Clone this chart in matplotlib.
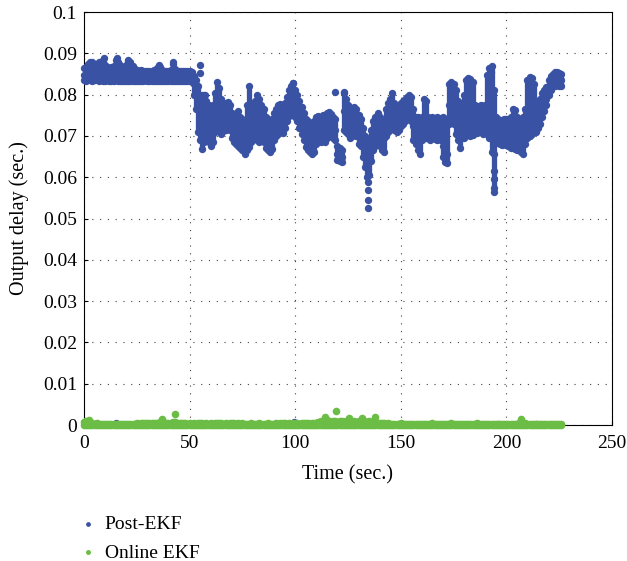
import numpy as np
import matplotlib
matplotlib.use('Agg')
from matplotlib import pyplot as plt

plt.rcParams['font.family'] = ['Liberation Serif', 'DejaVu Serif']

post_hi = [
    0.0865, 0.0868, 0.0875, 0.0880, 0.0878, 0.0875, 0.0870, 0.0878, 0.0872, 0.0885,
    0.0872, 0.0868, 0.0865, 0.0868, 0.0870, 0.0885, 0.0878, 0.0872, 0.0868, 0.0865,
    0.0872, 0.0882, 0.0878, 0.0870, 0.0862, 0.0860, 0.0858, 0.0860, 0.0858, 0.0856,
    0.0858, 0.0857, 0.0858, 0.0860, 0.0862, 0.0868, 0.0866, 0.0860, 0.0858, 0.0857,
    0.0858, 0.0860, 0.0875, 0.0862, 0.0858, 0.0857, 0.0858, 0.0856, 0.0858, 0.0857,
    0.0858, 0.0855, 0.0845, 0.0835, 0.0820, 0.0800, 0.0800, 0.0798, 0.0785, 0.0775,
    0.0765, 0.0775, 0.0805, 0.0830, 0.0815, 0.0790, 0.0775, 0.0780, 0.0782, 0.0775,
    0.0755, 0.0745, 0.0735, 0.0760, 0.0745, 0.0740, 0.0735, 0.0775, 0.0820, 0.0765,
    0.0775, 0.0785, 0.0800, 0.0790, 0.0775, 0.0765, 0.0745, 0.0740, 0.0730, 0.0740,
    0.0755, 0.0765, 0.0775, 0.0778, 0.0770, 0.0780, 0.0795, 0.0810, 0.0820, 0.0828,
    0.0810, 0.0800, 0.0785, 0.0770, 0.0755, 0.0740, 0.0735, 0.0732, 0.0730, 0.0735,
    0.0745, 0.0748, 0.0740, 0.0750, 0.0745, 0.0755, 0.0758, 0.0752, 0.0745, 0.0740,
    0.0675, 0.0670, 0.0665, 0.0805, 0.0790, 0.0775, 0.0760, 0.0765, 0.0770, 0.0765,
    0.0750, 0.0740, 0.0720, 0.0700, 0.0685, 0.0690, 0.0715, 0.0735, 0.0745, 0.0755,
    0.0745, 0.0735, 0.0730, 0.0765, 0.0780, 0.0790, 0.0804, 0.0780, 0.0768, 0.0775,
    0.0780, 0.0785, 0.0790, 0.0795, 0.0800, 0.0795, 0.0765, 0.0745, 0.0745, 0.0742,
    0.0745, 0.0790, 0.0785, 0.0745, 0.0743, 0.0745, 0.0742, 0.0745, 0.0743, 0.0742,
    0.0745, 0.0742, 0.0740, 0.0825, 0.0830, 0.0825, 0.0810, 0.0785, 0.0770, 0.0775,
    0.0800, 0.0835, 0.0840, 0.0838, 0.0830, 0.0775, 0.0768, 0.0772, 0.0775, 0.0765,
    0.0775, 0.0848, 0.0865, 0.0870, 0.0810, 0.0745, 0.0740, 0.0735, 0.0738, 0.0740,
    0.0742, 0.0740, 0.0745, 0.0765, 0.0762, 0.0745, 0.0742, 0.0740, 0.0745, 0.0765,
    0.0835, 0.0843, 0.0840, 0.0825, 0.0775, 0.0785, 0.0790, 0.0805, 0.0810, 0.0818,
    0.0835, 0.0845, 0.0850, 0.0855, 0.0855, 0.0852, 0.0850,
]
post_mid = [
    0.0848, 0.0850, 0.0852, 0.0855, 0.0852, 0.0850, 0.0848, 0.0850, 0.0852, 0.0850,
    0.0850, 0.0848, 0.0846, 0.0848, 0.0850, 0.0852, 0.0855, 0.0850, 0.0848, 0.0846,
    0.0848, 0.0850, 0.0848, 0.0845, 0.0845, 0.0844, 0.0845, 0.0843, 0.0845, 0.0844,
    0.0845, 0.0844, 0.0845, 0.0846, 0.0845, 0.0847, 0.0846, 0.0845, 0.0844, 0.0845,
    0.0845, 0.0846, 0.0848, 0.0845, 0.0844, 0.0845, 0.0844, 0.0845, 0.0844, 0.0845,
    0.0845, 0.0842, 0.0825, 0.0800, 0.0765, 0.0740, 0.0745, 0.0735, 0.0730, 0.0725,
    0.0720, 0.0730, 0.0755, 0.0780, 0.0765, 0.0745, 0.0735, 0.0740, 0.0745, 0.0740,
    0.0715, 0.0710, 0.0705, 0.0715, 0.0705, 0.0700, 0.0695, 0.0705, 0.0710, 0.0715,
    0.0735, 0.0740, 0.0745, 0.0745, 0.0735, 0.0720, 0.0705, 0.0700, 0.0695, 0.0705,
    0.0725, 0.0730, 0.0735, 0.0740, 0.0738, 0.0750, 0.0765, 0.0775, 0.0780, 0.0795,
    0.0775, 0.0760, 0.0745, 0.0735, 0.0720, 0.0705, 0.0700, 0.0695, 0.0690, 0.0695,
    0.0710, 0.0715, 0.0708, 0.0720, 0.0712, 0.0725, 0.0730, 0.0725, 0.0720, 0.0715,
    0.0655, 0.0650, 0.0648, 0.0760, 0.0745, 0.0735, 0.0730, 0.0735, 0.0740, 0.0735,
    0.0715, 0.0705, 0.0685, 0.0660, 0.0635, 0.0640, 0.0670, 0.0700, 0.0710, 0.0720,
    0.0715, 0.0700, 0.0695, 0.0735, 0.0745, 0.0755, 0.0765, 0.0745, 0.0740, 0.0745,
    0.0750, 0.0755, 0.0760, 0.0765, 0.0770, 0.0765, 0.0725, 0.0710, 0.0705, 0.0700,
    0.0715, 0.0735, 0.0730, 0.0720, 0.0720, 0.0722, 0.0720, 0.0718, 0.0720, 0.0720,
    0.0675, 0.0665, 0.0655, 0.0775, 0.0785, 0.0775, 0.0755, 0.0740, 0.0720, 0.0735,
    0.0745, 0.0765, 0.0755, 0.0750, 0.0745, 0.0745, 0.0740, 0.0742, 0.0745, 0.0738,
    0.0745, 0.0745, 0.0735, 0.0705, 0.0655, 0.0715, 0.0712, 0.0708, 0.0710, 0.0712,
    0.0712, 0.0710, 0.0708, 0.0720, 0.0715, 0.0710, 0.0705, 0.0700, 0.0710, 0.0720,
    0.0745, 0.0755, 0.0765, 0.0775, 0.0740, 0.0755, 0.0765, 0.0775, 0.0780, 0.0790,
    0.0820, 0.0830, 0.0835, 0.0840, 0.0842, 0.0838, 0.0835,
]
post_lo = [
    0.0835, 0.0832, 0.0838, 0.0835, 0.0832, 0.0835, 0.0838, 0.0833, 0.0835, 0.0832,
    0.0833, 0.0835, 0.0832, 0.0834, 0.0832, 0.0835, 0.0833, 0.0832, 0.0834, 0.0832,
    0.0832, 0.0834, 0.0833, 0.0832, 0.0834, 0.0833, 0.0832, 0.0834, 0.0833, 0.0835,
    0.0833, 0.0832, 0.0834, 0.0833, 0.0832, 0.0834, 0.0833, 0.0832, 0.0834, 0.0833,
    0.0833, 0.0834, 0.0832, 0.0833, 0.0834, 0.0833, 0.0832, 0.0834, 0.0833, 0.0834,
    0.0832, 0.0830, 0.0800, 0.0765, 0.0710, 0.0690, 0.0668, 0.0685, 0.0700, 0.0685,
    0.0675, 0.0685, 0.0710, 0.0740, 0.0720, 0.0705, 0.0712, 0.0715, 0.0720, 0.0715,
    0.0695, 0.0685, 0.0680, 0.0675, 0.0670, 0.0665, 0.0655, 0.0665, 0.0672, 0.0685,
    0.0700, 0.0695, 0.0690, 0.0685, 0.0690, 0.0685, 0.0670, 0.0665, 0.0660, 0.0668,
    0.0690, 0.0700, 0.0705, 0.0710, 0.0708, 0.0720, 0.0735, 0.0748, 0.0755, 0.0765,
    0.0745, 0.0735, 0.0720, 0.0705, 0.0690, 0.0672, 0.0665, 0.0660, 0.0655, 0.0660,
    0.0680, 0.0690, 0.0685, 0.0690, 0.0685, 0.0695, 0.0705, 0.0700, 0.0695, 0.0690,
    0.0642, 0.0640, 0.0638, 0.0715, 0.0710, 0.0705, 0.0695, 0.0700, 0.0705, 0.0700,
    0.0680, 0.0675, 0.0650, 0.0625, 0.0600, 0.0605, 0.0640, 0.0665, 0.0675, 0.0680,
    0.0675, 0.0665, 0.0660, 0.0700, 0.0710, 0.0720, 0.0730, 0.0715, 0.0710, 0.0715,
    0.0725, 0.0730, 0.0735, 0.0740, 0.0745, 0.0735, 0.0690, 0.0680, 0.0665, 0.0655,
    0.0690, 0.0695, 0.0695, 0.0695, 0.0690, 0.0695, 0.0692, 0.0690, 0.0692, 0.0690,
    0.0648, 0.0638, 0.0635, 0.0730, 0.0735, 0.0730, 0.0705, 0.0690, 0.0670, 0.0695,
    0.0695, 0.0710, 0.0705, 0.0700, 0.0702, 0.0710, 0.0708, 0.0710, 0.0712, 0.0705,
    0.0710, 0.0705, 0.0695, 0.0660, 0.0575, 0.0685, 0.0682, 0.0680, 0.0678, 0.0680,
    0.0678, 0.0675, 0.0670, 0.0672, 0.0668, 0.0665, 0.0668, 0.0660, 0.0655, 0.0680,
    0.0695, 0.0700, 0.0705, 0.0712, 0.0710, 0.0720, 0.0730, 0.0745, 0.0760, 0.0775,
    0.0800, 0.0810, 0.0820, 0.0822, 0.0825, 0.0822, 0.0820,
]
# isolated Post-EKF points
post_out_t = [9.5, 15.6, 21.0, 35.5, 42.0, 55.0, 55.0, 57.5, 99.0, 119.0, 123.0,
              134.5, 134.5, 134.5, 134.5, 192.5, 194.0, 194.0, 194.0,
              15.0, 99.5, 196.0, 205.0, 214.0]
post_out_y = [0.0889, 0.0889, 0.0884, 0.0872, 0.0879, 0.0872, 0.0852, 0.0799, 0.0828, 0.0806, 0.0806,
              0.0588, 0.0569, 0.0545, 0.0525, 0.0855, 0.0615, 0.0595, 0.0565,
              0.0004, 0.0007, 0.0003, 0.0003, 0.0003]

# Online EKF output delay per second (t = 0..226)
online = [
    0.0008, 0.0009, 0.0007, 0.0005, 0.0004, 0.0003, 0.0004, 0.0003, 0.0002, 0.0003,
    0.0002, 0.0003, 0.0002, 0.0003, 0.0002, 0.0002, 0.0003, 0.0002, 0.0003, 0.0002,
    0.0003, 0.0002, 0.0003, 0.0002, 0.0003, 0.0004, 0.0003, 0.0005, 0.0004, 0.0005,
    0.0004, 0.0006, 0.0005, 0.0004, 0.0006, 0.0005, 0.0008, 0.0010, 0.0006, 0.0005,
    0.0006, 0.0005, 0.0007, 0.0008, 0.0006, 0.0005, 0.0004, 0.0005, 0.0004, 0.0003,
    0.0004, 0.0003, 0.0004, 0.0003, 0.0004, 0.0005, 0.0004, 0.0003, 0.0004, 0.0003,
    0.0004, 0.0003, 0.0005, 0.0004, 0.0005, 0.0004, 0.0003, 0.0004, 0.0003, 0.0004,
    0.0005, 0.0004, 0.0003, 0.0004, 0.0003, 0.0004, 0.0003, 0.0002, 0.0003, 0.0004,
    0.0003, 0.0002, 0.0003, 0.0004, 0.0003, 0.0002, 0.0003, 0.0004, 0.0003, 0.0002,
    0.0003, 0.0004, 0.0003, 0.0004, 0.0005, 0.0004, 0.0003, 0.0004, 0.0003, 0.0004,
    0.0003, 0.0004, 0.0003, 0.0005, 0.0004, 0.0005, 0.0004, 0.0003, 0.0004, 0.0006,
    0.0005, 0.0007, 0.0009, 0.0010, 0.0008, 0.0012, 0.0009, 0.0008, 0.0010, 0.0009,
    0.0008, 0.0009, 0.0010, 0.0008, 0.0009, 0.0011, 0.0008, 0.0007, 0.0009, 0.0008,
    0.0010, 0.0009, 0.0011, 0.0008, 0.0007, 0.0009, 0.0008, 0.0007, 0.0006, 0.0005,
    0.0006, 0.0005, 0.0004, 0.0003, 0.0004, 0.0003, 0.0002, 0.0003, 0.0002, 0.0003,
    0.0004, 0.0003, 0.0002, 0.0003, 0.0002, 0.0003, 0.0002, 0.0002, 0.0003, 0.0002,
    0.0003, 0.0002, 0.0003, 0.0002, 0.0003, 0.0004, 0.0003, 0.0002, 0.0003, 0.0002,
    0.0002, 0.0003, 0.0002, 0.0003, 0.0004, 0.0003, 0.0002, 0.0003, 0.0002, 0.0003,
    0.0002, 0.0003, 0.0002, 0.0003, 0.0002, 0.0003, 0.0004, 0.0003, 0.0002, 0.0003,
    0.0002, 0.0003, 0.0002, 0.0003, 0.0002, 0.0003, 0.0002, 0.0003, 0.0002, 0.0003,
    0.0002, 0.0003, 0.0002, 0.0003, 0.0002, 0.0003, 0.0004, 0.0006, 0.0005, 0.0004,
    0.0003, 0.0002, 0.0003, 0.0002, 0.0003, 0.0002, 0.0003, 0.0002, 0.0003, 0.0002,
    0.0003, 0.0002, 0.0003, 0.0002, 0.0003, 0.0002, 0.0002,
]
online_out_t = [2.4, 37.0, 43.0, 114.0, 119.5, 125.5, 131.6, 138.0, 207.0]
online_out_y = [0.0012, 0.0015, 0.0027, 0.0020, 0.0034, 0.0017, 0.0017, 0.0019, 0.0015]

blue = '#3A52A3'
green = '#6CBD45'

t = np.arange(len(post_hi))
post_t = np.concatenate([t, t, t, post_out_t])
post_y = np.concatenate([post_hi, post_mid, post_lo, post_out_y])
t2 = np.arange(len(online))
online_t = np.concatenate([t2, t2, online_out_t])
online_y = np.concatenate([online, np.zeros(len(online)), online_out_y])

fig = plt.figure(figsize=(6.27, 5.61), dpi=100)
ax = fig.add_axes([0.134, 0.2424, 0.842, 0.7362])

# dense body of each band, then the individual samples on top
ax.vlines(t, post_lo, post_hi, color=blue, linewidth=3.8, capstyle='round', zorder=3)
ax.scatter(post_t, post_y, s=28, color=blue, linewidths=0, label='Post-EKF', clip_on=False, zorder=3)
ax.vlines(t2, 0, online, color=green, linewidth=4.2, capstyle='round', zorder=4, clip_on=False)
ax.scatter(online_t, online_y, s=30, color=green, linewidths=0, label='Online EKF', clip_on=False, zorder=4)

ax.set_xlim(0, 250)
ax.set_ylim(0, 0.1)
ax.set_xticks(np.arange(0, 251, 50))
ax.set_yticks(np.arange(0, 0.1001, 0.01))
ax.set_yticklabels(['0', '0.01', '0.02', '0.03', '0.04', '0.05', '0.06', '0.07', '0.08', '0.09', '0.1'])
ax.tick_params(direction='in', labelsize=14, length=3, width=0.8, pad=5)
ax.tick_params(axis='x', pad=7)
ax.grid(True, color='#444444', linestyle=(0, (1, 6)), linewidth=0.8)
ax.set_axisbelow(True)
for sp in ax.spines.values():
    sp.set_linewidth(0.8)

ax.set_xlabel('Time (sec.)', fontsize=14.5, labelpad=10)
ax.set_ylabel('Output delay (sec.)', fontsize=14.5, labelpad=10)

fig.legend(loc='upper left', bbox_to_anchor=(0.088, 0.112), frameon=False,
           fontsize=14, markerscale=0.65, handletextpad=0.05, labelspacing=0.55,
           handlelength=1.6)

fig.savefig('out.png', dpi=100)
